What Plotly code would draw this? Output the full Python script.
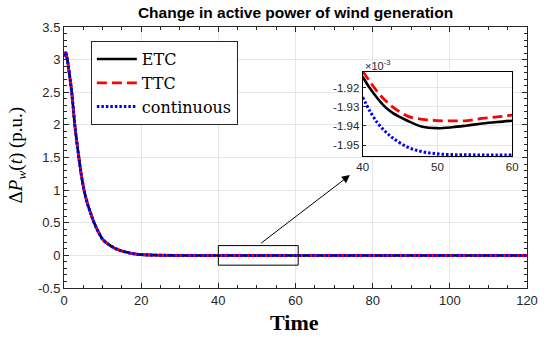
import plotly.graph_objects as go

# ---- data ----
# shared transient (all three responses overlap in the main view)
t_transient = [0, 0.4, 0.8, 1.4, 2.0, 2.8, 3.3, 3.85, 4.5, 5.2, 6.0, 7.0, 7.8, 9.0,
               10.1, 12.0, 13.9, 16.0, 18.0, 20.0, 25.0, 30.0, 35.0]
p_transient = [3.05, 3.11, 3.02, 2.78, 2.5, 2.0, 1.75, 1.5, 1.23, 1.0, 0.81, 0.63, 0.5,
               0.35, 0.24, 0.15, 0.09, 0.05, 0.025, 0.012, 0.002, -0.001, -0.0017]

# zoomed window, values in units of 1e-3 p.u.
t_zoom = [40, 41, 42, 43, 44, 46, 48, 50, 52, 54, 56, 58, 60]
etc_zoom = [-1.9143, -1.9205, -1.9257, -1.9301, -1.9332, -1.9373, -1.9405, -1.9412,
            -1.9407, -1.9398, -1.9388, -1.9380, -1.9373]
ttc_zoom = [-1.9115, -1.9170, -1.9223, -1.9266, -1.9301, -1.9349, -1.9366, -1.9373,
            -1.9374, -1.9372, -1.9361, -1.9353, -1.9344]
cont_zoom = [-1.9250, -1.9325, -1.9385, -1.9428, -1.9462, -1.9511, -1.9535, -1.9546,
             -1.9550, -1.9551, -1.9552, -1.9552, -1.9552]

# late values at t = 120 (1e-3 p.u.)
t_end = 120
etc_end, ttc_end, cont_end = -1.936, -1.933, -1.9552

series = [
    ("ETC", etc_zoom, etc_end, "#000000", "solid", 2.6),
    ("TTC", ttc_zoom, ttc_end, "#ff0000", "10px,5px", 2.8),
    ("continuous", cont_zoom, cont_end, "#0000ff", "2.5px,2px", 3.0),
]

fig = go.Figure()

for name, zvals, endv, col, dash, w in series:
    tx = t_transient + t_zoom + [t_end]
    ty = p_transient + [v * 1e-3 for v in zvals] + [endv * 1e-3]
    fig.add_trace(go.Scatter(x=tx, y=ty, mode="lines", name=name,
                             line=dict(color=col, dash=dash, width=w, shape="spline"),
                             xaxis="x", yaxis="y"))

for name, zvals, endv, col, dash, w in series:
    fig.add_trace(go.Scatter(x=t_zoom, y=zvals, mode="lines", showlegend=False,
                             line=dict(color=col, dash=dash, width=w, shape="spline"),
                             xaxis="x2", yaxis="y2"))

axcol = "#262626"
gridcol = "#e6e6e6"
tickfont = dict(family="Liberation Sans, Arial", size=13, color=axcol)
tickfont2 = dict(family="Liberation Sans, Arial", size=11.5, color=axcol)

fig.update_layout(
    width=550, height=340,
    margin=dict(l=64, r=18, t=27, b=52),
    paper_bgcolor="white", plot_bgcolor="white",
    showlegend=True,
    title=dict(text="<b>Change in active power of wind generation</b>",
               x=0.5, xref="paper", xanchor="center",
               y=1 - 13 / 340, yref="container", yanchor="middle",
               font=dict(family="Liberation Sans, Arial", size=15.5, color="#000000")),
    legend=dict(x=0.058, y=0.946, xanchor="left", yanchor="top",
                bgcolor="white", bordercolor=axcol, borderwidth=1,
                font=dict(family="DejaVu Serif", size=16, color="#000000"),
                itemwidth=40, tracegroupgap=0),
    xaxis=dict(domain=[0, 1], range=[0, 120], tickvals=[0, 20, 40, 60, 80, 100, 120],
               showgrid=True, gridcolor=gridcol, zeroline=False,
               showline=True, linecolor=axcol, linewidth=1, mirror="ticks",
               ticks="inside", ticklen=5, tickcolor=axcol, tickfont=tickfont,
               minor=dict(ticks="inside", dtick=5, ticklen=3, tickcolor=axcol, showgrid=False)),
    yaxis=dict(domain=[0, 1], range=[-0.5, 3.5],
               tickvals=[-0.5, 0, 0.5, 1, 1.5, 2, 2.5, 3, 3.5],
               ticktext=["-0.5", "0", "0.5", "1", "1.5", "2", "2.5", "3", "3.5"],
               showgrid=True, gridcolor=gridcol, zeroline=False,
               showline=True, linecolor=axcol, linewidth=1, mirror="ticks",
               ticks="inside", ticklen=5, tickcolor=axcol, tickfont=tickfont,
               minor=dict(ticks="inside", dtick=0.1, ticklen=3, tickcolor=axcol, showgrid=False)),
    xaxis2=dict(domain=[0.645, 0.968], anchor="y2", range=[40, 60], tickvals=[40, 50, 60],
                showgrid=True, gridcolor=gridcol, zeroline=False,
                showline=True, linecolor="#000000", linewidth=1, mirror=True,
                ticks="inside", ticklen=3, tickcolor=axcol, tickfont=tickfont2),
    yaxis2=dict(domain=[0.506, 0.828], anchor="x2", range=[-1.9557, -1.9118],
                tickvals=[-1.95, -1.94, -1.93, -1.92],
                ticktext=["-1.95", "-1.94", "-1.93", "-1.92"],
                showgrid=True, gridcolor=gridcol, zeroline=False,
                showline=True, linecolor="#000000", linewidth=1, mirror=True,
                ticks="inside", ticklen=3, tickcolor=axcol, tickfont=tickfont2),
)

# zoom box and arrow
fig.add_shape(type="rect", xref="x", yref="y", x0=40, x1=60.7, y0=-0.15, y1=0.15,
              line=dict(color="#000000", width=1))
fig.add_annotation(x=74.1, y=1.23, ax=50.7, ay=0.17, xref="x", yref="y",
                   axref="x", ayref="y", text="", showarrow=True,
                   arrowhead=2, arrowsize=1.6, arrowwidth=1, arrowcolor="#000000",
                   standoff=0, startstandoff=0)

# exponent label of inset
fig.add_annotation(x=0.646, y=0.856, xref="paper", yref="paper", xanchor="left",
                   yanchor="middle", showarrow=False, text="×10<sup>-3</sup>",
                   font=dict(family="Liberation Sans, Arial", size=11, color=axcol))

# axis titles
fig.add_annotation(x=-0.1026, y=0.51, xref="paper", yref="paper", textangle=-90,
                   showarrow=False, xanchor="center", yanchor="middle",
                   text="Δ<i>P</i><sub><i>w</i></sub>(<i>t</i>) (p.u.)",
                   font=dict(family="Liberation Serif, Times New Roman", size=19, color="#000000"))
fig.add_annotation(x=0.498, y=-0.134, xref="paper", yref="paper",
                   showarrow=False, xanchor="center", yanchor="middle",
                   text="<b>Time</b>",
                   font=dict(family="Liberation Serif, Times New Roman", size=22, color="#000000"))

fig.write_html("out.html", config={"displayModeBar": False},
               post_script="document.body.style.margin='0';")
